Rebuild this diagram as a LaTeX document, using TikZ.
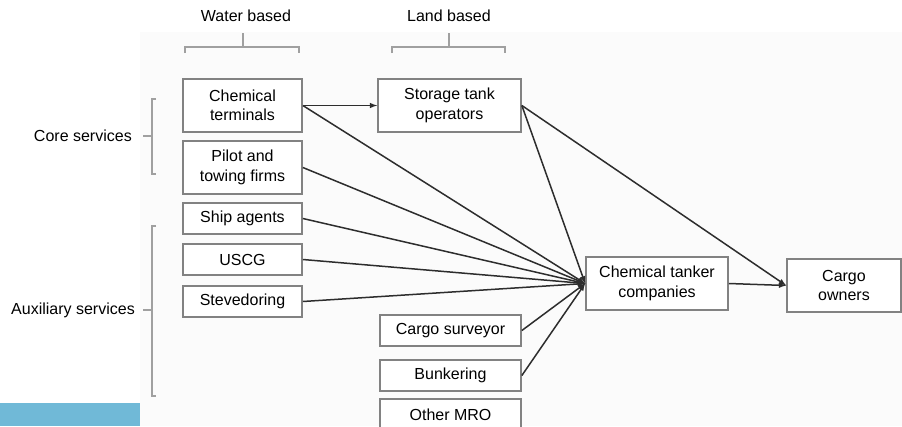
\documentclass[tikz,border=0pt]{standalone}
\usepackage{fontspec}
\setmainfont{Liberation Sans}
\definecolor{boxgray}{RGB}{130,130,130}
\definecolor{linegray}{RGB}{45,45,45}
\definecolor{bracegray}{RGB}{160,160,160}
\definecolor{paper}{RGB}{251,251,251}
\definecolor{bandblue}{RGB}{112,185,215}
\begin{document}
\begin{tikzpicture}[x=1pt,y=-1pt,
    box/.style={draw=boxgray,line width=1.7pt,fill=white,align=center,inner sep=0pt,
      minimum width=119pt,minimum height=53pt,font=\fontsize{16}{19.5}\selectfont},
    onebox/.style={box,minimum height=31pt},
    link/.style={draw=linegray,line width=1.5pt,-latex},
    brace/.style={draw=bracegray,line width=1.2pt},
    lbl/.style={inner sep=0pt,font=\fontsize{16}{19.5}\selectfont}]
    \useasboundingbox (0,0) rectangle (902,426);
    \clip (0,0) rectangle (902,426);
    \fill[paper] (140,32) rectangle (902,426);
    \fill[bandblue] (0,403) rectangle (140,426);

    \node[lbl] (water) at (246,16) {Water based};
    \node[lbl] (land) at (449,16) {Land based};
    \node[lbl,anchor=east] (core) at (132,136) {Core services};
    \node[lbl,anchor=east] (aux) at (135,310) {Auxiliary services};

    \draw[brace] (185,53) -- (185,47) -- (299,47) -- (299,53);
    \draw[brace] (243,47) -- (243,33);
    \draw[brace] (392,53) -- (392,47) -- (505,47) -- (505,53);
    \draw[brace] (449,47) -- (449,33);
    \draw[brace] (156,99) -- (152,99) -- (152,174) -- (156,174);
    \draw[brace] (152,136) -- (143,136);
    \draw[brace] (156,226) -- (152,226) -- (152,396) -- (156,396);
    \draw[brace] (152,310) -- (143,310);

    \node[box] (ct) at (242.5,105.5) {Chemical\\terminals};
    \node[box] (pt) at (242.5,167.5) {Pilot and\\towing firms};
    \node[onebox] (sa) at (242.5,218.5) {Ship agents};
    \node[onebox] (us) at (242.5,259.5) {USCG};
    \node[onebox] (sv) at (242.5,301.5) {Stevedoring};
    \node[box,minimum width=143pt] (so) at (449.5,105.5) {Storage tank\\operators};
    \node[onebox,minimum width=141pt] (cs) at (450.5,330.5) {Cargo surveyor};
    \node[onebox,minimum width=141pt] (bk) at (450.5,375.5) {Bunkering};
    \node[onebox,minimum width=141pt] (om) at (450.5,414.5) {Other MRO};
    \node[box,minimum width=142pt] (ctc) at (657,283.5) {Chemical tanker\\companies};
    \node[box,minimum width=114pt] (co) at (844,285.5) {Cargo\\owners};

    \draw[link] (ct.east) -- (so.west);
    \foreach \src in {ct,pt,sa,us,sv,so,cs,bk}
        \draw[link] (\src.east) -- (ctc.west);
    \draw[link] (so.east) -- (co.west);
    \draw[link] (ctc.east) -- (co.west);
\end{tikzpicture}
\end{document}
